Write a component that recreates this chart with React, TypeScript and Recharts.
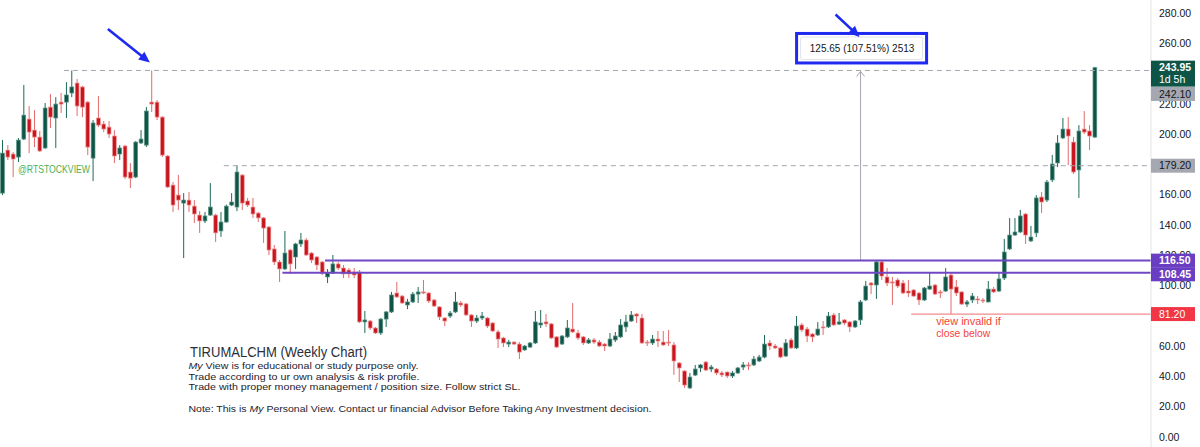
import React, { useState } from 'react';
import { createPortal } from 'react-dom';
import { ComposedChart, Bar, XAxis, YAxis, ReferenceLine, ReferenceDot } from 'recharts';

const FONT = "'Liberation Sans', Arial, sans-serif";

// ---- weekly OHLC (TIRUMALCHM) ----
const opens = [
  161.1, 189.5, 186.9, 184.9, 196.8, 210.0, 202.7, 198.1, 190.9, 217.9,
  210.7, 221.2, 221.2, 227.2, 233.8, 231.2, 221.2, 184.2, 210.7, 206.7,
  204.7, 198.8, 186.9, 192.2, 175.0, 171.7, 194.2, 192.8, 221.2, 221.2,
  211.3, 185.6, 166.4, 159.8, 154.5, 156.5, 152.5, 146.6, 142.7, 146.6,
  146.6, 136.1, 142.0, 153.2, 151.9, 173.0, 155.9, 151.9, 147.9, 144.7,
  138.7, 124.2, 115.6, 111.0, 123.5, 118.9, 127.5, 130.1, 121.5, 118.9,
  115.6, 105.7, 108.3, 114.3, 111.6, 110.3, 109.0, 109.0, 76.0, 76.6,
  72.0, 68.7, 77.9, 82.6, 95.1, 93.1, 87.2, 89.2, 94.4, 95.8,
  95.1, 90.5, 85.9, 78.6, 79.9, 82.6, 88.5, 87.9, 80.6, 76.6,
  78.6, 78.6, 75.3, 69.4, 65.4, 61.4, 62.7, 61.4, 57.5, 59.4,
  62.1, 74.0, 76.0, 74.7, 66.1, 61.4, 66.1, 71.3, 68.7, 66.1,
  62.1, 64.1, 62.7, 61.4, 60.1, 64.1, 66.1, 72.7, 76.6, 81.2,
  78.6, 62.7, 62.1, 64.7, 62.7, 62.7, 60.8, 48.9, 43.6, 32.4,
  40.9, 45.6, 49.5, 44.9, 44.9, 42.3, 42.9, 40.3, 42.3, 46.2,
  47.6, 47.6, 50.2, 52.8, 62.1, 60.1, 58.8, 53.5, 64.1, 58.8,
  74.0, 71.3, 68.0, 67.4, 72.7, 72.7, 80.6, 74.6, 77.3, 76.0,
  72.7, 77.3, 90.5, 101.7, 100.4, 115.6, 105.7, 102.4, 103.7, 101.7,
  96.4, 97.1, 95.1, 90.5, 97.7, 100.4, 95.8, 96.4, 107.0, 99.1,
  95.8, 87.8, 90.5, 91.2, 90.5, 89.2, 97.7, 96.4, 105.0, 124.2,
  133.4, 135.4, 147.3, 129.5, 134.8, 158.5, 156.5, 169.8, 181.0, 197.5,
  203.4, 194.8, 176.4, 203.4, 202.1, 198.1,
];
const highs = [
  196.1, 192.8, 188.2, 197.5, 232.5, 218.6, 215.9, 202.1, 220.6, 226.5,
  224.5, 227.2, 234.4, 242.1, 236.4, 232.0, 222.0, 209.3, 225.2, 208.7,
  208.7, 202.7, 192.8, 193.0, 180.9, 195.5, 202.7, 217.9, 242.1, 222.6,
  211.9, 186.3, 168.4, 173.1, 161.1, 161.8, 156.5, 149.2, 148.6, 167.7,
  147.5, 148.6, 153.5, 161.1, 179.2, 173.7, 157.9, 157.9, 148.6, 145.3,
  139.4, 126.8, 116.9, 136.1, 124.2, 128.2, 134.8, 131.4, 122.2, 119.5,
  116.2, 110.9, 120.2, 115.6, 113.6, 111.6, 111.6, 110.3, 83.2, 77.3,
  72.7, 78.6, 83.2, 95.8, 102.4, 93.8, 91.2, 95.8, 99.1, 103.7,
  95.8, 91.2, 86.5, 79.2, 83.2, 95.8, 89.8, 88.5, 81.2, 80.6,
  82.6, 79.3, 76.0, 70.7, 66.1, 64.1, 63.2, 62.7, 60.8, 62.7,
  83.2, 83.9, 81.2, 75.3, 66.7, 67.4, 77.3, 88.5, 70.7, 66.7,
  65.4, 65.4, 64.1, 62.1, 68.7, 69.4, 77.9, 80.6, 83.2, 81.9,
  81.2, 64.1, 67.4, 70.0, 70.0, 70.7, 62.7, 49.5, 44.2, 42.3,
  47.6, 48.2, 50.2, 47.6, 45.6, 43.6, 43.3, 43.6, 46.2, 49.5,
  49.5, 53.5, 54.2, 67.4, 64.1, 61.4, 59.4, 64.7, 65.4, 79.9,
  75.3, 72.7, 68.7, 75.9, 76.6, 82.6, 81.9, 81.9, 77.9, 76.6,
  77.3, 90.5, 103.0, 102.4, 116.5, 116.3, 111.6, 105.7, 105.0, 103.7,
  103.7, 97.7, 95.8, 99.1, 109.0, 101.0, 97.1, 111.6, 108.3, 103.7,
  96.4, 90.5, 95.1, 93.1, 91.8, 103.0, 99.1, 109.0, 130.8, 144.6,
  144.6, 150.0, 147.9, 139.4, 159.8, 161.8, 169.8, 186.3, 199.4, 210.7,
  211.3, 198.1, 206.0, 215.3, 206.0, 244.5,
];
const lows = [
  159.8, 182.9, 171.7, 181.6, 196.1, 187.5, 191.5, 188.2, 190.2, 204.1,
  190.9, 214.0, 210.7, 224.5, 212.0, 211.3, 186.2, 169.0, 204.7, 201.4,
  197.5, 180.9, 182.9, 170.4, 164.4, 171.0, 193.5, 191.5, 214.6, 209.3,
  184.9, 164.4, 148.6, 149.9, 118.2, 148.6, 141.3, 134.8, 141.3, 146.0,
  128.8, 132.2, 141.5, 152.5, 149.2, 149.9, 151.9, 144.7, 142.0, 128.2,
  120.2, 113.6, 102.4, 110.3, 107.7, 111.0, 125.5, 119.6, 114.9, 110.3,
  107.0, 101.7, 107.7, 110.3, 105.0, 105.0, 105.0, 75.3, 68.7, 70.7,
  68.0, 67.4, 72.7, 81.9, 91.8, 87.9, 84.5, 88.5, 88.5, 94.4,
  88.5, 85.9, 77.3, 73.3, 78.6, 81.9, 85.9, 79.9, 72.7, 75.3,
  77.3, 72.0, 69.4, 58.8, 59.4, 59.4, 60.8, 51.5, 57.0, 58.8,
  61.4, 72.0, 72.7, 64.7, 58.8, 60.8, 65.4, 68.7, 64.1, 60.8,
  61.4, 61.4, 59.4, 56.8, 59.4, 62.7, 65.4, 69.4, 76.0, 75.3,
  61.4, 60.1, 60.8, 59.4, 60.1, 60.1, 41.0, 36.3, 32.4, 31.7,
  40.3, 42.9, 43.6, 42.9, 40.9, 39.6, 39.0, 39.0, 41.6, 44.2,
  44.2, 46.9, 49.5, 52.0, 57.5, 58.1, 52.0, 52.8, 58.1, 58.1,
  69.4, 62.7, 62.7, 66.7, 67.4, 72.0, 73.3, 74.0, 74.0, 69.4,
  72.0, 74.0, 89.8, 94.4, 91.2, 103.7, 99.7, 87.2, 98.4, 94.4,
  92.5, 92.5, 87.2, 89.8, 97.1, 93.8, 91.8, 95.8, 81.2, 93.1,
  87.2, 85.9, 88.5, 87.8, 88.5, 88.9, 95.1, 95.8, 103.7, 123.5,
  132.8, 134.8, 127.5, 128.8, 132.1, 147.9, 155.2, 168.4, 178.3, 196.8,
  179.6, 173.7, 157.9, 200.1, 189.5, 197.5,
];
const closes = [
  187.5, 184.9, 183.6, 196.1, 212.6, 201.4, 198.1, 188.9, 217.3, 211.3,
  219.9, 219.9, 225.9, 231.2, 218.6, 217.9, 191.5, 207.4, 206.0, 203.4,
  200.1, 185.6, 190.9, 171.7, 171.0, 194.8, 196.8, 215.3, 219.9, 211.3,
  186.2, 165.1, 153.2, 156.5, 156.5, 153.2, 147.3, 142.7, 146.0, 151.9,
  134.8, 142.0, 152.5, 155.2, 175.0, 154.5, 153.2, 147.3, 144.7, 138.0,
  123.5, 115.6, 111.0, 121.5, 114.3, 127.5, 130.1, 120.2, 116.9, 113.6,
  108.3, 108.3, 114.3, 111.6, 107.7, 107.7, 107.0, 76.0, 77.3, 72.0,
  68.7, 77.9, 82.6, 93.8, 92.5, 88.5, 89.2, 94.4, 95.8, 95.1,
  89.8, 86.5, 79.3, 76.6, 81.9, 89.2, 87.2, 80.6, 76.6, 78.6,
  79.9, 73.3, 70.0, 64.7, 62.1, 62.7, 61.4, 56.1, 60.1, 62.1,
  76.0, 75.3, 74.7, 65.4, 59.4, 66.7, 72.0, 69.4, 65.4, 62.1,
  64.1, 62.7, 60.1, 60.1, 64.7, 66.7, 74.0, 76.0, 80.6, 79.9,
  62.1, 62.1, 64.7, 63.4, 60.8, 62.1, 50.2, 45.6, 34.3, 39.6,
  44.9, 47.6, 44.2, 46.2, 42.3, 41.0, 40.3, 42.3, 45.6, 47.6,
  46.9, 51.5, 52.8, 61.4, 60.1, 58.8, 52.8, 62.1, 58.8, 73.3,
  70.7, 66.7, 66.1, 71.3, 72.0, 79.9, 74.0, 76.0, 75.3, 72.7,
  76.6, 89.2, 99.7, 100.4, 115.6, 106.3, 101.7, 101.7, 99.7, 95.1,
  95.1, 93.1, 90.5, 98.4, 99.7, 94.4, 95.1, 105.7, 97.7, 95.1,
  87.8, 89.2, 93.1, 90.5, 89.8, 97.7, 95.8, 104.4, 122.2, 133.4,
  135.4, 146.0, 133.4, 132.1, 157.9, 155.2, 168.4, 180.3, 194.2, 203.4,
  198.8, 175.0, 202.1, 201.4, 198.8, 243.95,
];

const FUTURE_WEEKS = 10;
const yTicks = [0, 20, 40, 60, 80, 100, 120, 140, 160, 180, 200, 220, 240, 260, 280];
const yDomain: [number, number] = [-6.6, 288.64];

const lastClose = 243.95;
const timeLeft = '1d 5h';
const swingHigh = 242.1;
const secondHigh = 179.2;
const zoneTop = 116.5;
const zoneBottom = 108.45;
const stopLevel = 81.2;
const measureText = '125.65 (107.51%) 2513';

// week index where each drawing starts
const swingHighFrom = 11;
const secondHighFrom = 41;
const zoneTopFrom = 60;
const zoneBottomFrom = 52;
const stopFrom = 170;
const measureAt = 161;
const arrowAt = 28;

const titleText = 'TIRUMALCHM (Weekly Chart)';
const watermark = '@RTSTOCKVIEW';

const rows = Array.from({ length: opens.length + FUTURE_WEEKS }, (_, i) =>
  i < opens.length
    ? { i, o: opens[i], h: highs[i], l: lows[i], c: closes[i], range: [lows[i], highs[i]] }
    : { i, range: null }
);
const lastIdx = rows.length - 1;

const AXIS_X = 1151;
const UP = '#0f5547';
const UP_BORDER = '#5d9486';
const UP_WICK = '#1e6a58';
const DOWN = '#c8161e';
const DOWN_BORDER = '#ef9696';
const DOWN_WICK = '#e26a6a';
const BLUE = '#1f2af0';
const PURPLE = '#7047c4';
const GREY_LINE = '#a3a6af';

const Candle = (props: any) => {
  const { x, y, width, height, payload } = props;
  if (!payload || payload.o == null || !(height > 0)) return null;
  const { o, h, l, c } = payload;
  const k = height / (h - l);
  const yOf = (v: number) => y + (h - v) * k;
  const cx = x + width / 2;
  const up = c >= o;
  const top = yOf(Math.max(o, c));
  const bot = yOf(Math.min(o, c));
  const bw = 3.8;
  return (
    <g>
      <line x1={cx} x2={cx} y1={y} y2={y + height} stroke={up ? UP_WICK : DOWN_WICK} strokeWidth={1} />
      <rect
        x={cx - bw / 2}
        y={top}
        width={bw}
        height={Math.max(bot - top, 1)}
        fill={up ? UP : DOWN}
        stroke={up ? UP_BORDER : DOWN_BORDER}
        strokeWidth={0.7}
      />
    </g>
  );
};

const Tag = ({ y, fill, color, text, sub, bold }: any) => {
  const h = sub ? 26 : 14;
  return (
    <g>
      <rect x={AXIS_X} y={y - 7} width={44} height={h} fill={fill} />
      <text x={AXIS_X + 8} y={y} dy="0.36em" fontSize={10.5} fill={color} fontWeight={bold ? 700 : 400} fontFamily={FONT}>
        {text}
      </text>
      {sub ? (
        <text x={AXIS_X + 8} y={y + 12} dy="0.36em" fontSize={10.5} fill={color} fontFamily={FONT}>
          {sub}
        </text>
      ) : null}
    </g>
  );
};

const BlueArrow = ({ x1, y1, x2, y2 }: any) => {
  const dx = x2 - x1;
  const dy = y2 - y1;
  const len = Math.hypot(dx, dy);
  const ux = dx / len;
  const uy = dy / len;
  const head = 11;
  const half = 5;
  const bx = x2 - ux * head;
  const by = y2 - uy * head;
  const pts = `${x2},${y2} ${bx - uy * half},${by + ux * half} ${bx + uy * half},${by - ux * half}`;
  return (
    <g>
      <line x1={x1} y1={y1} x2={bx + ux} y2={by + uy} stroke={BLUE} strokeWidth={2.6} />
      <polygon points={pts} fill={BLUE} />
    </g>
  );
};

const vbOf = (p: any) => p?.viewBox ?? p ?? {};

const MeasureLabel = (p: any) => {
  const vb = vbOf(p);
  const x = vb.x;
  const y = vb.y;
  if (x == null || y == null) return null;
  return (
    <g>
      <polyline points={`${x - 4},${y + 6} ${x},${y + 1} ${x + 4},${y + 6}`} fill="none" stroke={GREY_LINE} strokeWidth={1} />
      <rect x={x - 64} y={y - 37} width={130} height={29.5} fill="#ffffff" stroke={BLUE} strokeWidth={3} />
      <rect x={x - 60} y={y - 33.5} width={122} height={22.5} fill="#ffffff" stroke="#e0e3eb" strokeWidth={1} rx={2} />
      <text x={x + 1.5} y={y - 22.2} dy="0.36em" textAnchor="middle" fontSize={10} fill="#131722" fontFamily={FONT}>
        {measureText}
      </text>
      <BlueArrow x1={x - 25} y1={y - 56} x2={x - 1} y2={y - 33.5} />
    </g>
  );
};

export default function App() {
  // price tags on the axis are drawn into a layer above the axis ticks
  const [tagLayer, setTagLayer] = useState<SVGGElement | null>(null);
  const onTop = (el: React.ReactNode) => (tagLayer ? createPortal(el, tagLayer) : null);

  return (
    <div
      style={{
        position: 'absolute',
        left: 0,
        top: 0,
        width: 1200,
        height: 447,
        background: '#ffffff',
        overflow: 'hidden',
        fontFamily: FONT,
      }}
    >
      <ComposedChart
        width={1200}
        height={447}
        data={rows}
        margin={{ top: 0, right: 0, bottom: 0, left: 0 }}
        barCategoryGap={0}
        barGap={0}
      >
        <XAxis dataKey="i" hide />
        <YAxis
          orientation="right"
          width={49}
          domain={yDomain}
          allowDataOverflow
          ticks={yTicks}
          interval={0}
          tickFormatter={(v: number) => v.toFixed(2)}
          axisLine={{ stroke: '#e0e3eb' }}
          tickLine={false}
          tick={{ fill: '#131722', fontSize: 10.5, fontFamily: FONT }}
        />
        <Bar dataKey="range" shape={(p: any) => <Candle {...p} />} isAnimationActive={false} />

        <ReferenceLine
          segment={[{ x: swingHighFrom, y: swingHigh }, { x: lastIdx, y: swingHigh }]}
          position="end"
          ifOverflow="visible"
          stroke={GREY_LINE}
          strokeDasharray="5 4"
          label={(p: any) =>
            onTop(<Tag y={vbOf(p).y + 23.5} fill="#a5a8b0" color="#131722" text={swingHigh.toFixed(2)} />)
          }
        />
        <ReferenceLine
          segment={[{ x: secondHighFrom, y: secondHigh }, { x: lastIdx, y: secondHigh }]}
          position="end"
          ifOverflow="visible"
          stroke={GREY_LINE}
          strokeDasharray="5 4"
          label={(p: any) => onTop(<Tag y={vbOf(p).y} fill="#a5a8b0" color="#131722" text={secondHigh.toFixed(2)} />)}
        />
        <ReferenceLine
          segment={[{ x: stopFrom, y: stopLevel }, { x: lastIdx, y: stopLevel }]}
          position="end"
          ifOverflow="visible"
          stroke="#f28a8d"
          strokeWidth={1.2}
          label={(p: any) => {
            const vb = vbOf(p);
            return (
              <g>
                {onTop(<Tag y={vb.y} fill="#f23645" color="#ffffff" text={stopLevel.toFixed(2)} />)}
                <text x={vb.x + 25} y={vb.y + 11} fontSize={10.5} fill="#f44336" fontFamily={FONT} textLength={64.5} lengthAdjust="spacingAndGlyphs">
                  view invalid if
                </text>
                <text x={vb.x + 25} y={vb.y + 22.5} fontSize={10.5} fill="#f44336" fontFamily={FONT} textLength={54} lengthAdjust="spacingAndGlyphs">
                  close below
                </text>
              </g>
            );
          }}
        />
        <ReferenceLine
          segment={[{ x: measureAt, y: zoneTop }, { x: measureAt, y: swingHigh }]}
          position="middle"
          ifOverflow="visible"
          stroke={GREY_LINE}
          strokeWidth={1}
          label={(p: any) => <MeasureLabel {...p} />}
        />
        <ReferenceLine
          segment={[{ x: zoneTopFrom, y: zoneTop }, { x: lastIdx, y: zoneTop }]}
          position="end"
          ifOverflow="visible"
          stroke={PURPLE}
          strokeWidth={2}
          label={(p: any) => onTop(<Tag y={vbOf(p).y} fill="#6a3ec2" color="#ffffff" text={zoneTop.toFixed(2)} bold />)}
        />
        <ReferenceLine
          segment={[{ x: zoneBottomFrom, y: zoneBottom }, { x: lastIdx, y: zoneBottom }]}
          position="end"
          ifOverflow="visible"
          stroke={PURPLE}
          strokeWidth={2}
          label={(p: any) =>
            onTop(<Tag y={vbOf(p).y + 1.5} fill="#6a3ec2" color="#ffffff" text={zoneBottom.toFixed(2)} bold />)
          }
        />
        <ReferenceLine
          y={lastClose}
          stroke="none"
          ifOverflow="visible"
          label={(p: any) =>
            onTop(<Tag y={vbOf(p).y} fill="#0f5547" color="#ffffff" text={lastClose.toFixed(2)} sub={timeLeft} bold />)
          }
        />
        <ReferenceDot
          x={arrowAt}
          y={swingHigh}
          r={1}
          fill="none"
          stroke="none"
          ifOverflow="visible"
          label={(p: any) => {
            const vb = vbOf(p);
            const cx = vb.x + (vb.width || 0) / 2;
            const cy = vb.y + (vb.height || 0) / 2;
            return <BlueArrow x1={cx - 44} y1={cy - 41.5} x2={cx - 2} y2={cy - 8} />;
          }}
        />
      </ComposedChart>

      <svg
        width={1200}
        height={447}
        style={{ position: 'absolute', left: 0, top: 0, pointerEvents: 'none' }}
      >
        <g ref={setTagLayer} />
        <text x={18} y={172.5} fontSize={10.5} fill="#4cb050" fontFamily={FONT} textLength={72} lengthAdjust="spacingAndGlyphs">
          {watermark}
        </text>
        <text x={190} y={356.7} fontSize={14} fill="#2a2e39" fontFamily={FONT} textLength={177} lengthAdjust="spacingAndGlyphs">
          {titleText}
        </text>
        <text x={188.5} y={369.3} fontSize={9.8} fill="#1e222d" fontFamily={FONT} textLength={230} lengthAdjust="spacingAndGlyphs">
          <tspan fontStyle="italic">My</tspan> View is for educational or study purpose only.
        </text>
        <text x={188.5} y={379.5} fontSize={9.8} fill="#1e222d" fontFamily={FONT} textLength={231} lengthAdjust="spacingAndGlyphs">
          Trade according to ur own analysis &amp; risk profile.
        </text>
        <text x={188.5} y={390} fontSize={9.8} fill="#1e222d" fontFamily={FONT} textLength={332} lengthAdjust="spacingAndGlyphs">
          Trade with proper money management / position size. Follow strict SL.
        </text>
        <text x={188.5} y={411.5} fontSize={9.8} fill="#1e222d" fontFamily={FONT} textLength={463} lengthAdjust="spacingAndGlyphs">
          Note: This is <tspan fontStyle="italic">My</tspan> Personal View. Contact ur financial Advisor Before Taking Any Investment decision.
        </text>
      </svg>
    </div>
  );
}
